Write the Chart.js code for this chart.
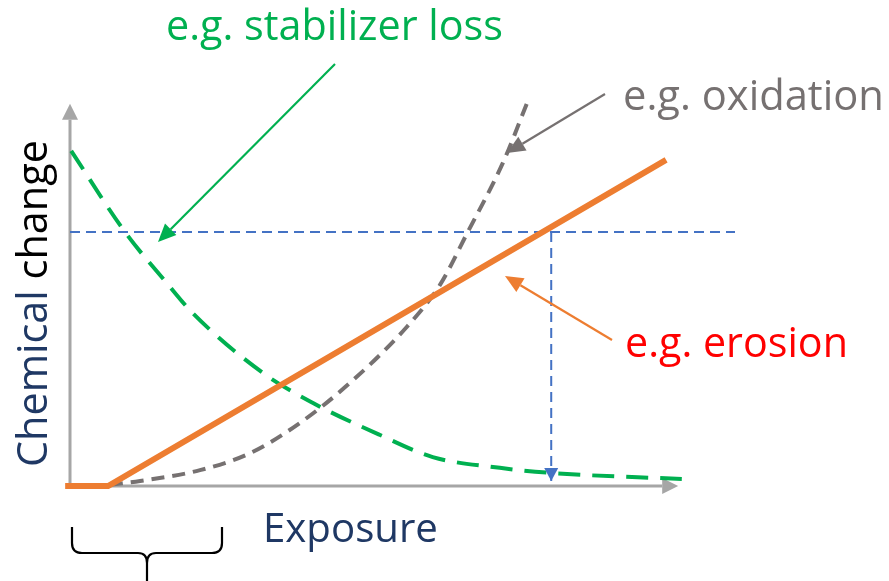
<!DOCTYPE html>
<html>
<head>
<meta charset="utf-8">
<script src="https://cdn.jsdelivr.net/npm/chart.js@4/dist/chart.umd.min.js"></script>
<style>
  body { margin: 0; background: #fff; }
  #wrap { width: 889px; height: 581px; position: relative; }
</style>
</head>
<body>
<div id="wrap"><canvas id="chart"></canvas></div>
<script>
// exposure (x) vs chemical change (y), arbitrary units
const stabilizerX = [0.02, 0.91, 1.60, 2.03, 3.19, 4.02, 5.13, 6.00, 7.11, 7.94, 10.12];
const stabilizerY = [8.68, 6.58, 5.26, 4.48, 2.93, 2.15, 1.32, 0.75, 0.47, 0.34, 0.18];

const oxidationX = [0.66, 1.16, 2.15, 2.98, 3.80, 4.63, 5.57, 6.12, 6.57, 7.16, 7.56];
const oxidationY = [0.03, 0.13, 0.41, 0.85, 1.63, 2.67, 4.12, 5.21, 6.55, 8.37, 9.92];

const erosionX = [-0.08, 0.63, 9.86];
const erosionY = [0, 0, 8.45];

// threshold level and the exposure where erosion reaches it
const thresholdY = 6.58;
const thresholdX = [0, 11];
const limitX = 7.96;
const limitY = [thresholdY, 0.13];

const xRange = [0, 11];
const yRange = [0, 10];
const axisEnd = { x: 10.06, y: 9.9 };

function pts(xs, ys) {
    return xs.map((x, i) => ({ x: x, y: ys[i] }));
}

function arrow(ctx, x1, y1, x2, y2, color, width, headLen, headHalf) {
    const a = Math.atan2(y2 - y1, x2 - x1);
    const bx = x2 - headLen * Math.cos(a);
    const by = y2 - headLen * Math.sin(a);
    ctx.save();
    ctx.strokeStyle = color;
    ctx.fillStyle = color;
    ctx.lineWidth = width;
    ctx.setLineDash([]);
    ctx.beginPath();
    ctx.moveTo(x1, y1);
    ctx.lineTo(bx, by);
    ctx.stroke();
    ctx.beginPath();
    ctx.moveTo(x2, y2);
    ctx.lineTo(bx + headHalf * Math.sin(a), by - headHalf * Math.cos(a));
    ctx.lineTo(bx - headHalf * Math.sin(a), by + headHalf * Math.cos(a));
    ctx.closePath();
    ctx.fill();
    ctx.restore();
}

const FAMILY = '"Open Sans", "Noto Sans", sans-serif';

// font size that makes the text span the given width
function fitSize(ctx, text, width) {
    ctx.font = '100px ' + FAMILY;
    return 100 * width / ctx.measureText(text).width;
}

function label(ctx, text, x, y, width, color) {
    const size = fitSize(ctx, text, width);
    ctx.font = size + 'px ' + FAMILY;
    ctx.fillStyle = color;
    ctx.textBaseline = 'alphabetic';
    ctx.textAlign = 'left';
    ctx.fillText(text, x, y);
}

const decorations = {
    id: 'decorations',
    beforeDatasetsDraw(chart) {
        const ctx = chart.ctx;
        const xs = chart.scales.x, ys = chart.scales.y;
        const ox = xs.getPixelForValue(0), oy = ys.getPixelForValue(0);
        // axes with arrow heads
        arrow(ctx, ox, oy, xs.getPixelForValue(axisEnd.x), oy, '#a6a6a6', 3, 16, 8);
        arrow(ctx, ox, oy, ox, ys.getPixelForValue(axisEnd.y), '#a6a6a6', 3, 16, 8);
    },
    afterDraw(chart) {
        const ctx = chart.ctx;
        const xs = chart.scales.x, ys = chart.scales.y;

        // head of the blue drop line
        const lx = xs.getPixelForValue(limitX);
        const tipY = ys.getPixelForValue(limitY[1]);
        ctx.save();
        ctx.fillStyle = '#4472c4';
        ctx.beginPath();
        ctx.moveTo(lx, tipY);
        ctx.lineTo(lx - 7, tipY - 13);
        ctx.lineTo(lx + 7, tipY - 13);
        ctx.closePath();
        ctx.fill();
        ctx.restore();

        // annotations
        label(ctx, 'e.g. stabilizer loss', 166, 40, 337, '#00b050');
        arrow(ctx, 335, 64, 158, 242, '#00b050', 2.2, 18, 8);

        label(ctx, 'e.g. oxidation', 623, 110, 261, '#767171');
        arrow(ctx, 605, 94, 507, 153, '#767171', 2.2, 18, 8);

        label(ctx, 'e.g. erosion', 625, 357, 223, '#ff0000');
        arrow(ctx, 612, 340, 505, 276, '#ed7d31', 2.2, 18, 8);

        // axis titles
        label(ctx, 'Exposure', 263, 542, 175, '#1f3864');

        ctx.save();
        ctx.translate(47, 467);
        ctx.rotate(-Math.PI / 2);
        const full = 'Chemical change';
        const size = fitSize(ctx, full, 327);
        ctx.font = size + 'px ' + FAMILY;
        ctx.textBaseline = 'alphabetic';
        ctx.textAlign = 'left';
        ctx.fillStyle = '#1f3864';
        ctx.fillText('Chemical ', 0, 0);
        const w = ctx.measureText('Chemical ').width;
        ctx.fillStyle = '#000000';
        ctx.fillText('change', w, 0);
        ctx.restore();

        // brace under the induction period
        ctx.save();
        ctx.strokeStyle = '#000';
        ctx.lineWidth = 2.2;
        ctx.beginPath();
        ctx.moveTo(72, 527);
        ctx.lineTo(72, 543);
        ctx.quadraticCurveTo(72, 553, 82, 553);
        ctx.lineTo(138, 553);
        ctx.quadraticCurveTo(147, 553, 147, 563);
        ctx.lineTo(147, 581);
        ctx.moveTo(147, 563);
        ctx.quadraticCurveTo(147, 553, 156, 553);
        ctx.lineTo(212, 553);
        ctx.quadraticCurveTo(222, 553, 222, 543);
        ctx.lineTo(222, 527);
        ctx.stroke();
        ctx.restore();
    }
};

new Chart(document.getElementById('chart'), {
    type: 'scatter',
    data: {
        datasets: [
            {
                label: 'erosion',
                data: pts(erosionX, erosionY),
                showLine: true,
                borderColor: '#ed7d31',
                borderWidth: 6,
                pointRadius: 0,
                clip: false,
                order: 0
            },
            {
                label: 'stabilizer loss',
                data: pts(stabilizerX, stabilizerY),
                showLine: true,
                borderColor: '#00b050',
                borderWidth: 4,
                borderDash: [22, 12],
                cubicInterpolationMode: 'monotone',
                pointRadius: 0,
                clip: false,
                order: 1
            },
            {
                label: 'oxidation',
                data: pts(oxidationX, oxidationY),
                showLine: true,
                borderColor: '#767171',
                borderWidth: 4,
                borderDash: [13, 8],
                cubicInterpolationMode: 'monotone',
                pointRadius: 0,
                clip: false,
                order: 2
            },
            {
                label: 'threshold',
                data: pts(thresholdX, [thresholdY, thresholdY]),
                showLine: true,
                borderColor: '#4472c4',
                borderWidth: 2,
                borderDash: [10, 6],
                pointRadius: 0,
                clip: false,
                order: 3
            },
            {
                label: 'limit',
                data: pts([limitX, limitX], limitY),
                showLine: true,
                borderColor: '#4472c4',
                borderWidth: 2,
                borderDash: [10, 6],
                pointRadius: 0,
                clip: false,
                order: 3
            }
        ]
    },
    options: {
        responsive: true,
        maintainAspectRatio: false,
        animation: false,
        layout: { padding: { left: 70, right: 154, top: 100, bottom: 95 } },
        scales: {
            x: { type: 'linear', min: xRange[0], max: xRange[1], display: false },
            y: { type: 'linear', min: yRange[0], max: yRange[1], display: false }
        },
        plugins: {
            legend: { display: false },
            tooltip: { enabled: false }
        }
    },
    plugins: [decorations]
});
</script>
</body>
</html>
